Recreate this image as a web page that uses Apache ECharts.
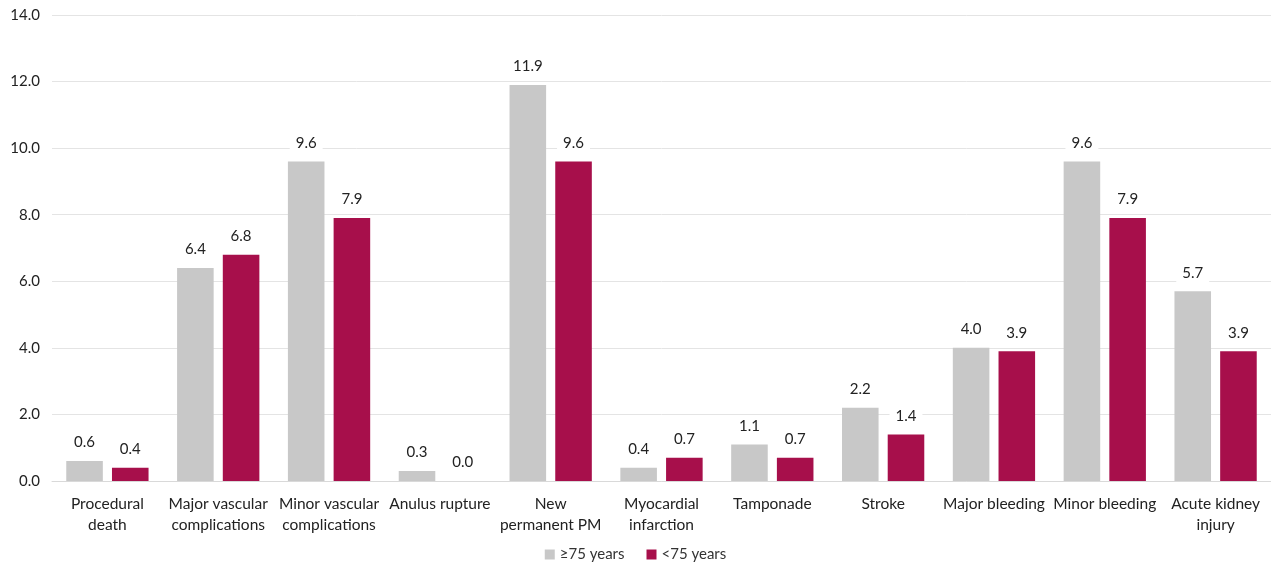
<!DOCTYPE html>
<html>
<head>
<meta charset="utf-8">
<script src="https://cdn.jsdelivr.net/npm/echarts@6/dist/echarts.min.js"></script>
<style>
  html, body { margin: 0; padding: 0; background: #ffffff; }
  #chart { width: 1271px; height: 565px; }
</style>
</head>
<body>
<div id="chart"></div>
<script>
// Periprocedural complications (%) by age group
const categories = [
  'Procedural\ndeath',
  'Major vascular\ncomplications',
  'Minor vascular\ncomplications',
  'Anulus rupture',
  'New\npermanent PM',
  'Myocardial\ninfarction',
  'Tamponade',
  'Stroke',
  'Major bleeding',
  'Minor bleeding',
  'Acute kidney\ninjury'
];
const seriesNames = ['\u226575 years', '<75 years'];
const olderValues = [0.6, 6.4, 9.6, 0.3, 11.9, 0.4, 1.1, 2.2, 4.0, 9.6, 5.7];
const youngerValues = [0.4, 6.8, 7.9, 0.0, 9.6, 0.7, 0.7, 1.4, 3.9, 7.9, 3.9];

const FONT = 'Lato, "Open Sans", sans-serif';
const colors = ['#c8c8c8', '#a70f4b'];

const valueLabel = {
  show: true,
  position: 'top',
  distance: 8,
  fontFamily: FONT,
  fontSize: 15,
  color: '#222',
  backgroundColor: '#ffffff',
  padding: [3, 6],
  formatter: p => p.value.toFixed(1)
};

const chart = echarts.init(document.getElementById('chart'));
chart.setOption({
  animation: false,
  color: colors,
  grid: { left: 52, right: 0, top: 15, bottom: 84, containLabel: false },
  legend: {
    bottom: -2,
    left: 'center',
    itemWidth: 10,
    itemHeight: 10,
    itemGap: 22,
    icon: 'rect',
    textStyle: { fontFamily: FONT, fontSize: 15, color: '#333' },
    data: seriesNames
  },
  xAxis: {
    type: 'category',
    data: categories,
    axisLine: { show: true, lineStyle: { color: '#d9d9d9', width: 1 } },
    axisTick: { show: false },
    axisLabel: {
      interval: 0,
      fontFamily: FONT,
      fontSize: 15.5,
      color: '#222',
      lineHeight: 21,
      margin: 12
    }
  },
  yAxis: {
    type: 'value',
    min: 0,
    max: 14,
    interval: 2,
    axisLine: { show: false },
    axisTick: { show: false },
    splitLine: { lineStyle: { color: '#e4e4e4', width: 1 } },
    axisLabel: {
      fontFamily: FONT,
      fontSize: 15,
      color: '#222',
      margin: 12,
      formatter: v => v.toFixed(1)
    }
  },
  series: [
    {
      name: seriesNames[0],
      type: 'bar',
      data: olderValues,
      barWidth: '33%',
      barGap: '25%',
      itemStyle: { color: colors[0] },
      label: valueLabel
    },
    {
      name: seriesNames[1],
      type: 'bar',
      data: youngerValues,
      barWidth: '33%',
      barGap: '25%',
      itemStyle: { color: colors[1] },
      label: valueLabel
    }
  ]
});
</script>
</body>
</html>
